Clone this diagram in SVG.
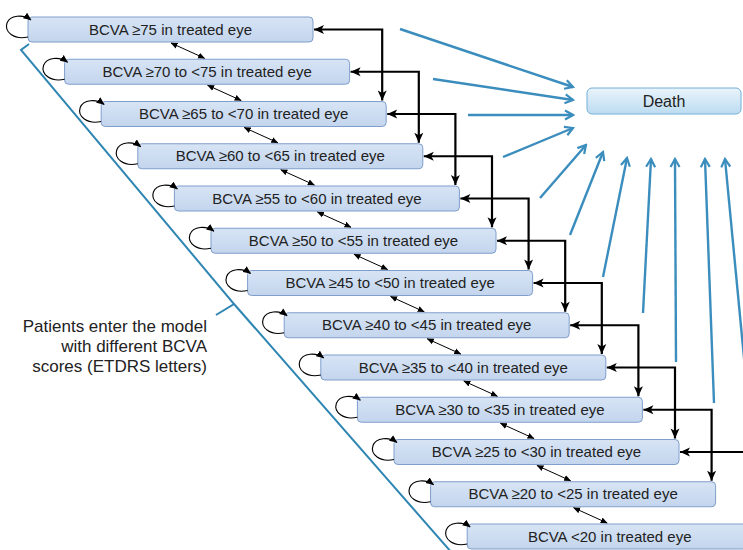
<svg xmlns="http://www.w3.org/2000/svg" width="743" height="550" viewBox="0 0 743 550">
<style>
.box{fill:url(#boxg);stroke:#7f9ecb;stroke-width:1}
.lbl{font-family:"Liberation Sans",Arial,sans-serif;font-size:15px;fill:#222;text-anchor:middle}
.death{fill:url(#deathg);stroke:#74afd6;stroke-width:1}
.dlbl{font-family:"Liberation Sans",Arial,sans-serif;font-size:16px;fill:#222;text-anchor:middle}
.note{font-family:"Liberation Sans",Arial,sans-serif;font-size:17px;fill:#222;text-anchor:end}
.thick{fill:none;stroke:#000;stroke-width:2.2;marker-start:url(#ah);marker-end:url(#ah)}
.thin{fill:none;stroke:#000;stroke-width:1;marker-start:url(#sm);marker-end:url(#sm)}
.loop{fill:none;stroke:#000;stroke-width:1.1;marker-end:url(#lp)}
.blue{fill:none;stroke:#3a8dbd;stroke-width:2.4;marker-end:url(#bl)}
.brace{fill:none;stroke:#2f86b2;stroke-width:2}
</style>
<defs>
<linearGradient id="boxg" x1="0" y1="0" x2="0" y2="1">
<stop offset="0" stop-color="#d7e4f5"/><stop offset="1" stop-color="#c3d5ed"/>
</linearGradient>
<linearGradient id="deathg" x1="0" y1="0" x2="0" y2="1">
<stop offset="0" stop-color="#eaf4fb"/><stop offset="1" stop-color="#bcdcf1"/>
</linearGradient>
<marker id="ah" markerUnits="userSpaceOnUse" markerWidth="12" markerHeight="12" viewBox="0 0 12 12" refX="11" refY="6" orient="auto-start-reverse">
<path d="M1,1.5 L11,6 L1,10.5 L3.5,6 z" fill="#000"/>
</marker>
<marker id="sm" markerUnits="userSpaceOnUse" markerWidth="7" markerHeight="7" viewBox="0 0 7 7" refX="6.5" refY="3.5" orient="auto-start-reverse">
<path d="M0,0.5 L7,3.5 L0,6.5 z" fill="#000"/>
</marker>
<marker id="lp" markerUnits="userSpaceOnUse" markerWidth="8" markerHeight="8" viewBox="0 0 8 8" refX="7.5" refY="4" orient="auto">
<path d="M0,0.5 L8,4 L0,7.5 z" fill="#000"/>
</marker>
<marker id="bl" markerUnits="userSpaceOnUse" markerWidth="12" markerHeight="12" viewBox="0 0 12 12" refX="10" refY="6" orient="auto">
<path d="M2,1.5 L10,6 L2,10.5" fill="none" stroke="#3a8dbd" stroke-width="2.2"/>
</marker>
</defs>
<rect width="743" height="550" fill="#fff"/>

<g id="brace">
<path class="brace" d="M29,44 L21,50 L234,304 L216,315 M234,304 L452,553"/>
</g>

<g id="note">
<text class="note" x="207" y="331.5">Patients enter the model</text>
<text class="note" x="207" y="351.5">with different BCVA</text>
<text class="note" x="207" y="371.5">scores (ETDRS letters)</text>
</g>

<g id="n0"><rect class="box" x="28" y="17" width="285" height="25" rx="4"/><text class="lbl" x="170.5" y="34.5">BCVA ≥75 in treated eye</text></g>
<g id="n1"><rect class="box" x="64.6" y="59.25" width="285" height="25" rx="4"/><text class="lbl" x="207.1" y="76.75">BCVA ≥70 to &lt;75 in treated eye</text></g>
<g id="n2"><rect class="box" x="101.2" y="101.5" width="285" height="25" rx="4"/><text class="lbl" x="243.7" y="119">BCVA ≥65 to &lt;70 in treated eye</text></g>
<g id="n3"><rect class="box" x="137.8" y="143.75" width="285" height="25" rx="4"/><text class="lbl" x="280.3" y="161.25">BCVA ≥60 to &lt;65 in treated eye</text></g>
<g id="n4"><rect class="box" x="174.4" y="186" width="285" height="25" rx="4"/><text class="lbl" x="316.9" y="203.5">BCVA ≥55 to &lt;60 in treated eye</text></g>
<g id="n5"><rect class="box" x="211" y="228.25" width="285" height="25" rx="4"/><text class="lbl" x="353.5" y="245.75">BCVA ≥50 to &lt;55 in treated eye</text></g>
<g id="n6"><rect class="box" x="247.6" y="270.5" width="285" height="25" rx="4"/><text class="lbl" x="390.1" y="288">BCVA ≥45 to &lt;50 in treated eye</text></g>
<g id="n7"><rect class="box" x="284.2" y="312.75" width="285" height="25" rx="4"/><text class="lbl" x="426.7" y="330.25">BCVA ≥40 to &lt;45 in treated eye</text></g>
<g id="n8"><rect class="box" x="320.8" y="355" width="285" height="25" rx="4"/><text class="lbl" x="463.3" y="372.5">BCVA ≥35 to &lt;40 in treated eye</text></g>
<g id="n9"><rect class="box" x="357.4" y="397.25" width="285" height="25" rx="4"/><text class="lbl" x="499.9" y="414.75">BCVA ≥30 to &lt;35 in treated eye</text></g>
<g id="n10"><rect class="box" x="394" y="439.5" width="285" height="25" rx="4"/><text class="lbl" x="536.5" y="457">BCVA ≥25 to &lt;30 in treated eye</text></g>
<g id="n11"><rect class="box" x="430.6" y="481.75" width="285" height="25" rx="4"/><text class="lbl" x="573.1" y="499.25">BCVA ≥20 to &lt;25 in treated eye</text></g>
<g id="n12"><rect class="box" x="467.2" y="524" width="285" height="25" rx="4"/><text class="lbl" x="609.7" y="541.5">BCVA &lt;20 in treated eye</text></g>

<g id="death"><rect class="death" x="587" y="88" width="154" height="26" rx="5"/><text class="dlbl" x="664" y="106.5">Death</text></g>

<g id="connectors">
<g id="loops">
<path class="loop" d="M28,37 c-14,3 -24,-5 -21,-14 c3,-8 16,-9 24,-3"/>
<path class="loop" d="M64.6,79.25 c-14,3 -24,-5 -21,-14 c3,-8 16,-9 24,-3"/>
<path class="loop" d="M101.2,121.5 c-14,3 -24,-5 -21,-14 c3,-8 16,-9 24,-3"/>
<path class="loop" d="M137.8,163.75 c-14,3 -24,-5 -21,-14 c3,-8 16,-9 24,-3"/>
<path class="loop" d="M174.4,206 c-14,3 -24,-5 -21,-14 c3,-8 16,-9 24,-3"/>
<path class="loop" d="M211,248.25 c-14,3 -24,-5 -21,-14 c3,-8 16,-9 24,-3"/>
<path class="loop" d="M247.6,290.5 c-14,3 -24,-5 -21,-14 c3,-8 16,-9 24,-3"/>
<path class="loop" d="M284.2,332.75 c-14,3 -24,-5 -21,-14 c3,-8 16,-9 24,-3"/>
<path class="loop" d="M320.8,375 c-14,3 -24,-5 -21,-14 c3,-8 16,-9 24,-3"/>
<path class="loop" d="M357.4,417.25 c-14,3 -24,-5 -21,-14 c3,-8 16,-9 24,-3"/>
<path class="loop" d="M394,459.5 c-14,3 -24,-5 -21,-14 c3,-8 16,-9 24,-3"/>
<path class="loop" d="M430.6,501.75 c-14,3 -24,-5 -21,-14 c3,-8 16,-9 24,-3"/>
<path class="loop" d="M467.2,544 c-14,3 -24,-5 -21,-14 c3,-8 16,-9 24,-3"/>
</g>
<g id="adjacent">
<path class="thin" d="M171,43 L204.6,58.25"/>
<path class="thin" d="M207.6,85.25 L241.2,100.5"/>
<path class="thin" d="M244.2,127.5 L277.8,142.75"/>
<path class="thin" d="M280.8,169.75 L314.4,185"/>
<path class="thin" d="M317.4,212 L351,227.25"/>
<path class="thin" d="M354,254.25 L387.6,269.5"/>
<path class="thin" d="M390.6,296.5 L424.2,311.75"/>
<path class="thin" d="M427.2,338.75 L460.8,354"/>
<path class="thin" d="M463.8,381 L497.4,396.25"/>
<path class="thin" d="M500.4,423.25 L534,438.5"/>
<path class="thin" d="M537,465.5 L570.6,480.75"/>
<path class="thin" d="M573.6,507.75 L607.2,523"/>
</g>
<g id="jumps">
<path class="thick" d="M314,29.5 H382.2 V100.5"/>
<path class="thick" d="M350.6,71.75 H418.8 V142.75"/>
<path class="thick" d="M387.2,114 H455.4 V185"/>
<path class="thick" d="M423.8,156.25 H492 V227.25"/>
<path class="thick" d="M460.4,198.5 H528.6 V269.5"/>
<path class="thick" d="M497,240.75 H565.2 V311.75"/>
<path class="thick" d="M533.6,283 H601.8 V354"/>
<path class="thick" d="M570.2,325.25 H638.4 V396.25"/>
<path class="thick" d="M606.8,367.5 H675 V438.5"/>
<path class="thick" d="M643.4,409.75 H711.6 V480.75"/>
<path class="thick" d="M680,452 H748.2 V523"/>
</g>
<g id="to-death">
<path class="blue" d="M400,29 L573,87"/>
<path class="blue" d="M433,79 L573,100"/>
<path class="blue" d="M468,115 L573,115"/>
<path class="blue" d="M503,157 L573,128"/>
<path class="blue" d="M540,198 L586,145"/>
<path class="blue" d="M570,235 L603,152"/>
<path class="blue" d="M603,277 L627,158"/>
<path class="blue" d="M643,313 L651,159"/>
<path class="blue" d="M676,362 L675,159"/>
<path class="blue" d="M714,403 L705,159"/>
<path class="blue" d="M753,452 L725,159"/>
</g>
</g>
</svg>
